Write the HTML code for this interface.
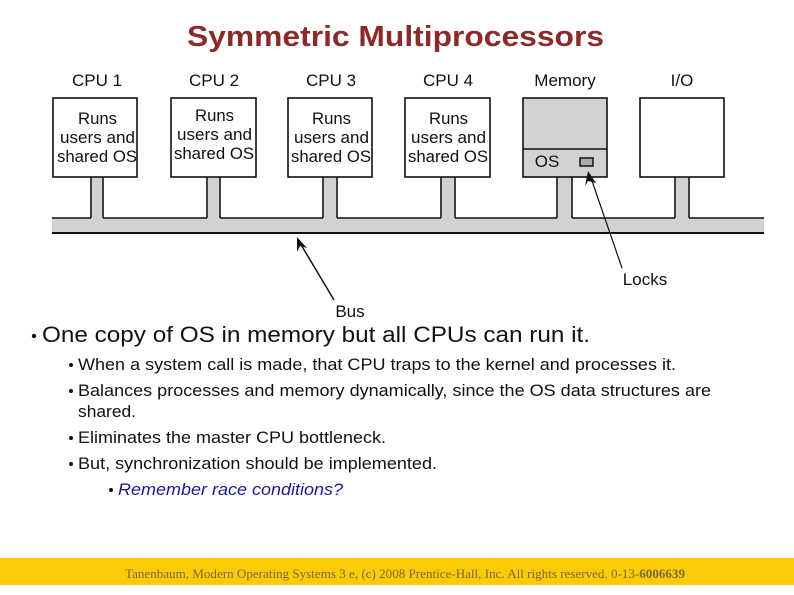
<!DOCTYPE html>
<html><head><meta charset="utf-8"><style>
html,body{margin:0;padding:0;background:#fff;}
svg{display:block;font-family:"Liberation Sans",sans-serif;}
</style></head><body>
<svg width="794" height="595" viewBox="0 0 794 595" xmlns="http://www.w3.org/2000/svg">
<text x="187" y="46" font-size="29" font-weight="bold" fill="#8b2a2a" textLength="417" lengthAdjust="spacingAndGlyphs">Symmetric Multiprocessors</text>
<rect x="52" y="218" width="712" height="15" fill="#d2d2d2"/>
<line x1="52" y1="233" x2="764" y2="233" stroke="#111" stroke-width="2"/>
<g fill="#d2d2d2">
<rect x="92" y="177" width="10" height="42"/>
<rect x="208" y="177" width="11" height="42"/>
<rect x="324" y="177" width="12" height="42"/>
<rect x="442" y="177" width="12" height="42"/>
<rect x="558" y="177" width="13" height="42"/>
<rect x="676" y="177" width="12" height="42"/>
</g>
<g stroke="#111" stroke-width="1.6" fill="none">
<path d="M91 177 V218 M103 177 V218 M207 177 V218 M220 177 V218 M323 177 V218 M337 177 V218 M441 177 V218 M455 177 V218 M557 177 V218 M572 177 V218 M675 177 V218 M689 177 V218"/>
<path d="M52 218 H91 M103 218 H207 M220 218 H323 M337 218 H441 M455 218 H557 M572 218 H675 M689 218 H764"/>
</g>
<g fill="#fff" stroke="#111" stroke-width="1.6">
<rect x="53" y="98" width="84" height="79"/>
<rect x="171" y="98" width="85" height="79"/>
<rect x="288" y="98" width="84" height="79"/>
<rect x="405" y="98" width="85" height="79"/>
<rect x="523" y="98" width="84" height="79" fill="#d2d2d2"/>
<rect x="640" y="98" width="84" height="79"/>
</g>
<line x1="523" y1="149" x2="607" y2="149" stroke="#111" stroke-width="1.6"/>
<rect x="580" y="158" width="13" height="8" fill="#aaa" stroke="#111" stroke-width="1.5"/>
<g font-size="17" fill="#111" text-anchor="middle">
<text x="97" y="86">CPU 1</text>
<text x="214" y="86">CPU 2</text>
<text x="331" y="86">CPU 3</text>
<text x="448" y="86">CPU 4</text>
<text x="565" y="86">Memory</text>
<text x="682" y="86">I/O</text>
<text x="547" y="167">OS</text>
<text x="645" y="285">Locks</text>
<text x="350" y="317">Bus</text>
</g>
<g font-size="17" fill="#111">
<text x="78" y="124" textLength="39" lengthAdjust="spacingAndGlyphs">Runs</text><text x="60" y="143" textLength="75" lengthAdjust="spacingAndGlyphs">users and</text><text x="57" y="162" textLength="80" lengthAdjust="spacingAndGlyphs">shared OS</text>
<text x="195" y="121" textLength="39" lengthAdjust="spacingAndGlyphs">Runs</text><text x="177" y="140" textLength="75" lengthAdjust="spacingAndGlyphs">users and</text><text x="174" y="159" textLength="80" lengthAdjust="spacingAndGlyphs">shared OS</text>
<text x="312" y="124" textLength="39" lengthAdjust="spacingAndGlyphs">Runs</text><text x="294" y="143" textLength="75" lengthAdjust="spacingAndGlyphs">users and</text><text x="291" y="162" textLength="80" lengthAdjust="spacingAndGlyphs">shared OS</text>
<text x="429" y="124" textLength="39" lengthAdjust="spacingAndGlyphs">Runs</text><text x="411" y="143" textLength="75" lengthAdjust="spacingAndGlyphs">users and</text><text x="408" y="162" textLength="80" lengthAdjust="spacingAndGlyphs">shared OS</text>
</g>
<line x1="622" y1="268" x2="591" y2="178" stroke="#111" stroke-width="1.2"/>
<polygon points="588,171 596,183 588,181 585,186" fill="#111"/>
<line x1="334" y1="300" x2="300" y2="243" stroke="#111" stroke-width="1.5"/>
<polygon points="297,237 307,248 300,246 297,252" fill="#111"/>
<g fill="#111">
<circle cx="34" cy="336" r="2.2"/>
<circle cx="71" cy="365" r="2"/><circle cx="71" cy="391" r="2"/>
<circle cx="71" cy="438" r="2"/><circle cx="71" cy="464" r="2"/>
<circle cx="111" cy="490" r="2"/>
</g>
<text x="42" y="342" font-size="22" fill="#111" textLength="548" lengthAdjust="spacingAndGlyphs">One copy of OS in memory but all CPUs can run it.</text>
<g font-size="17" fill="#111">
<text x="78" y="370" textLength="598" lengthAdjust="spacingAndGlyphs">When a system call is made, that CPU traps to the kernel and processes it.</text>
<text x="78" y="396" textLength="633" lengthAdjust="spacingAndGlyphs">Balances processes and memory dynamically, since the OS data structures are</text>
<text x="78" y="417" textLength="58" lengthAdjust="spacingAndGlyphs">shared.</text>
<text x="78" y="443" textLength="308" lengthAdjust="spacingAndGlyphs">Eliminates the master CPU bottleneck.</text>
<text x="78" y="469" textLength="359" lengthAdjust="spacingAndGlyphs">But, synchronization should be implemented.</text>
</g>
<text x="118" y="495" font-size="17" font-style="italic" fill="#1a1a8c" textLength="225" lengthAdjust="spacingAndGlyphs">Remember race conditions?</text>
<rect x="0" y="558" width="794" height="27" fill="#fdcb06"/>
<text x="125" y="578" font-family="'Liberation Serif',serif" font-size="13" fill="#7a6a3a" textLength="560" lengthAdjust="spacingAndGlyphs">Tanenbaum, Modern Operating Systems 3 e, (c) 2008 Prentice-Hall, Inc. All rights reserved. 0-13-<tspan font-weight="bold">6006639</tspan></text>
</svg>
</body></html>
